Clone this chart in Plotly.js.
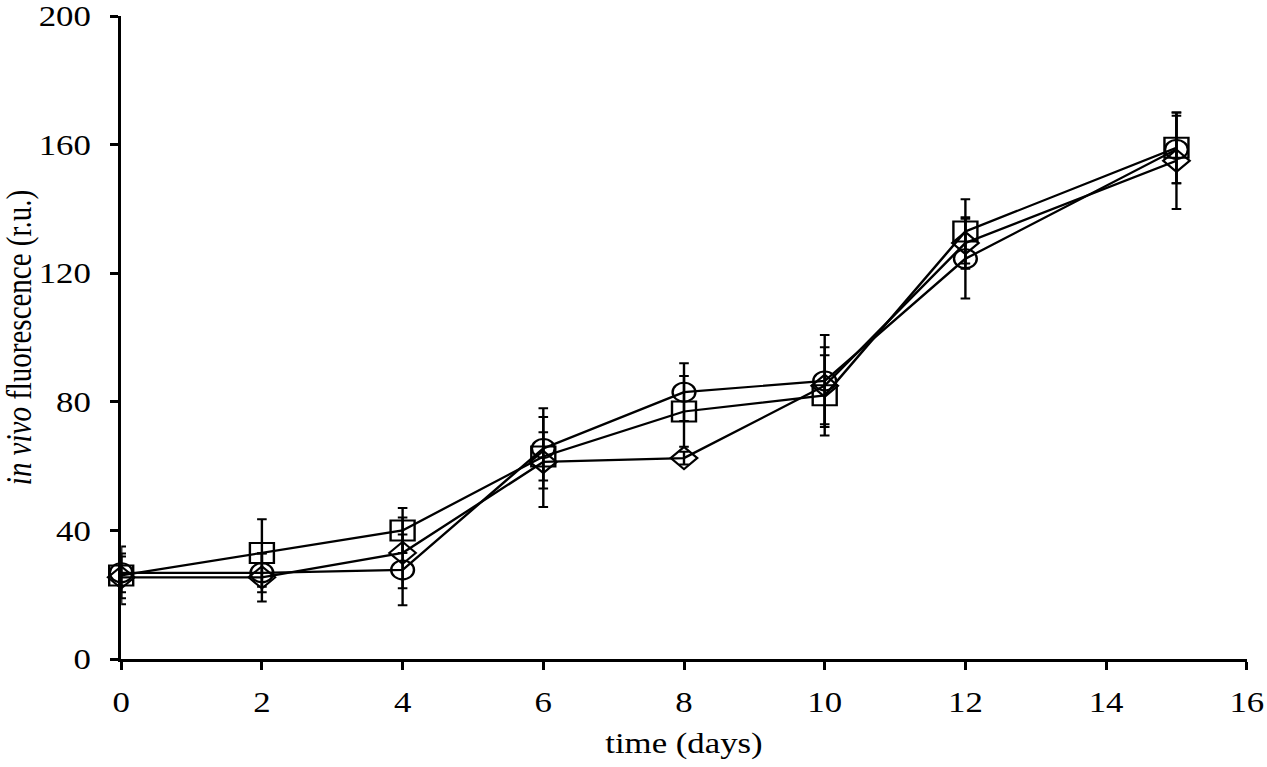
<!DOCTYPE html>
<html>
<head>
<meta charset="utf-8">
<script src="https://cdn.plot.ly/plotly-3.0.1.min.js"></script>
<style>
  html, body { margin: 0; padding: 0; background: #fff; overflow: hidden; }
  #wrap { width: 1267px; height: 767px; overflow: hidden; }
  #chart { width: 1056px; height: 767px; transform: scaleX(1.2); transform-origin: 0 0; }
</style>
</head>
<body>
<div id="wrap"><div id="chart"></div></div>
<script>
// time points (days)
const days = [0, 2, 4, 6, 8, 10, 12, 15];

// series values (in vivo fluorescence, r.u.)
const squareVals  = [26, 33, 40, 63, 77, 82, 133, 159];
const squareErr   = [9, 10.5, 7, 7.5, 11, 12.5, 10, 11];

const circleVals  = [26.8, 26.8, 27.7, 65.5, 83, 86.5, 124.5, 158.5];
const circleErr   = [6, 6, 11, 12.5, 9, 14.3, 12.4, 10.5];

const diamondVals = [25.4, 25.4, 33, 61.3, 62.5, 85, 129.4, 155];
const diamondErr  = [6.5, 7.5, 11, 14, 2, 12, 8, 15];

// tick labels
const xTicks = [0, 2, 4, 6, 8, 10, 12, 14, 16];
const yTicks = [0, 40, 80, 120, 160, 200];

const FONT = "'Liberation Serif', 'Times New Roman', Times, serif";

function series(y, err, symbol, size) {
  return {
    x: days, y: y, type: 'scatter', mode: 'lines+markers',
    cliponaxis: false,
    line: { color: '#000', width: 2.2 },
    marker: { symbol: symbol, size: size, color: '#000', line: { color: '#000', width: 2 } },
    error_y: { type: 'data', array: err, visible: true, color: '#000', thickness: 2, width: 4 },
    showlegend: false, hoverinfo: 'x+y'
  };
}

const data = [
  series(squareVals, squareErr, 'square-open', 20),
  series(circleVals, circleErr, 'circle-open', 19),
  series(diamondVals, diamondErr, 'diamond-open', 17)
];

const layout = {
  width: 1056, height: 767,
  margin: { l: 101, r: 17, t: 16, b: 108 },
  paper_bgcolor: '#fff', plot_bgcolor: '#fff',
  font: { family: FONT, size: 29, color: '#000' },
  showlegend: false,
  xaxis: {
    range: [0, 16], tickvals: xTicks, ticktext: xTicks.map(String),
    showgrid: false, zeroline: false,
    showline: true, linecolor: '#000', linewidth: 3,
    ticks: 'outside', ticklen: 8, tickwidth: 2.5, tickcolor: '#000',
    ticklabelstandoff: 7,
    tickfont: { family: FONT, size: 29, color: '#000' },
    title: { text: 'time (days)', font: { family: FONT, size: 29, color: '#000' }, standoff: 16 }
  },
  yaxis: {
    range: [0, 200], tickvals: yTicks, ticktext: yTicks.map(String),
    showgrid: false, zeroline: false,
    showline: true, linecolor: '#000', linewidth: 2.5,
    ticks: 'outside', ticklen: 7, tickwidth: 3, tickcolor: '#000',
    ticklabelstandoff: 10,
    tickfont: { family: FONT, size: 29, color: '#000' },
    title: { text: '<i>in vivo</i> fluorescence (r.u.)', font: { family: FONT, size: 29, color: '#000' }, standoff: 2 }
  }
};

Plotly.newPlot('chart', data, layout, { displayModeBar: false, staticPlot: true });
</script>
</body>
</html>
